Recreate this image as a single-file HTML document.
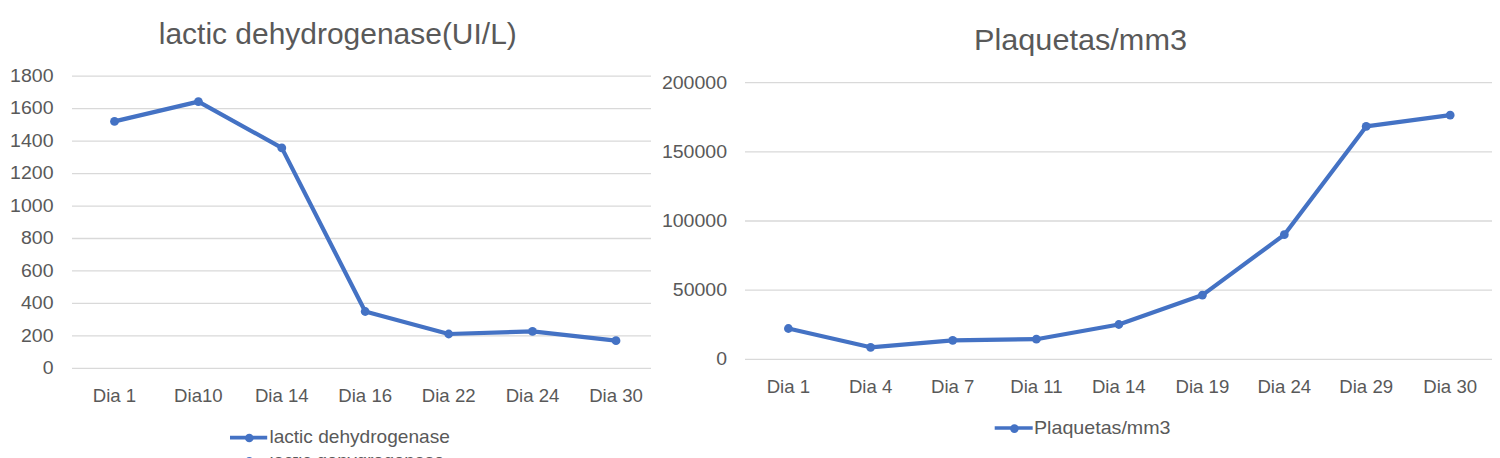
<!DOCTYPE html>
<html><head><meta charset="utf-8"><style>
html,body{margin:0;padding:0;background:#fff;width:1500px;height:458px;overflow:hidden}
svg{display:block;font-family:"Liberation Sans", sans-serif}
</style></head><body>
<svg width="1500" height="458" viewBox="0 0 1500 458">
<rect width="1500" height="458" fill="#fff"/>
<line x1="72" y1="76.2" x2="651" y2="76.2" stroke="#D9D9D9" stroke-width="1.3"/>
<line x1="72" y1="108.66" x2="651" y2="108.66" stroke="#D9D9D9" stroke-width="1.3"/>
<line x1="72" y1="141.12" x2="651" y2="141.12" stroke="#D9D9D9" stroke-width="1.3"/>
<line x1="72" y1="173.58" x2="651" y2="173.58" stroke="#D9D9D9" stroke-width="1.3"/>
<line x1="72" y1="206.04" x2="651" y2="206.04" stroke="#D9D9D9" stroke-width="1.3"/>
<line x1="72" y1="238.5" x2="651" y2="238.5" stroke="#D9D9D9" stroke-width="1.3"/>
<line x1="72" y1="270.96" x2="651" y2="270.96" stroke="#D9D9D9" stroke-width="1.3"/>
<line x1="72" y1="303.42" x2="651" y2="303.42" stroke="#D9D9D9" stroke-width="1.3"/>
<line x1="72" y1="335.88" x2="651" y2="335.88" stroke="#D9D9D9" stroke-width="1.3"/>
<line x1="72" y1="368.34" x2="651" y2="368.34" stroke="#D9D9D9" stroke-width="1.3"/>
<text x="53.5" y="81.9" font-size="18" text-anchor="end" fill="#595959" textLength="43.4" lengthAdjust="spacingAndGlyphs">1800</text>
<text x="53.5" y="114.4" font-size="18" text-anchor="end" fill="#595959" textLength="43.4" lengthAdjust="spacingAndGlyphs">1600</text>
<text x="53.5" y="146.8" font-size="18" text-anchor="end" fill="#595959" textLength="43.4" lengthAdjust="spacingAndGlyphs">1400</text>
<text x="53.5" y="179.3" font-size="18" text-anchor="end" fill="#595959" textLength="43.4" lengthAdjust="spacingAndGlyphs">1200</text>
<text x="53.5" y="211.7" font-size="18" text-anchor="end" fill="#595959" textLength="43.4" lengthAdjust="spacingAndGlyphs">1000</text>
<text x="53.5" y="244.2" font-size="18" text-anchor="end" fill="#595959" textLength="32.5" lengthAdjust="spacingAndGlyphs">800</text>
<text x="53.5" y="276.7" font-size="18" text-anchor="end" fill="#595959" textLength="32.5" lengthAdjust="spacingAndGlyphs">600</text>
<text x="53.5" y="309.1" font-size="18" text-anchor="end" fill="#595959" textLength="32.5" lengthAdjust="spacingAndGlyphs">400</text>
<text x="53.5" y="341.6" font-size="18" text-anchor="end" fill="#595959" textLength="32.5" lengthAdjust="spacingAndGlyphs">200</text>
<text x="53.5" y="374.0" font-size="18" text-anchor="end" fill="#595959" textLength="10.8" lengthAdjust="spacingAndGlyphs">0</text>
<text x="114.5" y="402.4" font-size="18.6" text-anchor="middle" fill="#595959">Dia 1</text>
<text x="198.4" y="402.4" font-size="18.6" text-anchor="middle" fill="#595959">Dia10</text>
<text x="281.8" y="402.4" font-size="18.6" text-anchor="middle" fill="#595959">Dia 14</text>
<text x="365.2" y="402.4" font-size="18.6" text-anchor="middle" fill="#595959">Dia 16</text>
<text x="448.7" y="402.4" font-size="18.6" text-anchor="middle" fill="#595959">Dia 22</text>
<text x="532.5" y="402.4" font-size="18.6" text-anchor="middle" fill="#595959">Dia 24</text>
<text x="616.0" y="402.4" font-size="18.6" text-anchor="middle" fill="#595959">Dia 30</text>
<polyline points="114.5,121.4 198.4,101.6 281.8,147.9 365.2,311.5 448.7,334.0 532.5,331.4 616.0,340.7" fill="none" stroke="#4472C4" stroke-width="4.2" stroke-linejoin="round" stroke-linecap="round"/>
<circle cx="114.5" cy="121.4" r="4.4" fill="#4472C4"/>
<circle cx="198.4" cy="101.6" r="4.4" fill="#4472C4"/>
<circle cx="281.8" cy="147.9" r="4.4" fill="#4472C4"/>
<circle cx="365.2" cy="311.5" r="4.4" fill="#4472C4"/>
<circle cx="448.7" cy="334.0" r="4.4" fill="#4472C4"/>
<circle cx="532.5" cy="331.4" r="4.4" fill="#4472C4"/>
<circle cx="616.0" cy="340.7" r="4.4" fill="#4472C4"/>
<text x="337.8" y="43.9" font-size="30" text-anchor="middle" fill="#595959" textLength="358" lengthAdjust="spacingAndGlyphs">lactic dehydrogenase(UI/L)</text>
<line x1="230" y1="437.6" x2="267.2" y2="437.6" stroke="#4472C4" stroke-width="3.6"/>
<circle cx="249.3" cy="438" r="4.3" fill="#4472C4"/>
<text x="269.4" y="443.2" font-size="19" text-anchor="start" fill="#595959" textLength="180.5" lengthAdjust="spacingAndGlyphs">lactic dehydrogenase</text>
<clipPath id="cb"><rect x="200" y="457" width="300" height="1"/></clipPath>
<g clip-path="url(#cb)"><circle cx="249.3" cy="461.3" r="4.3" fill="#4472C4"/>
<text x="269.4" y="466.6" font-size="19" text-anchor="start" fill="#595959" textLength="175" lengthAdjust="spacingAndGlyphs">lactic dehydrogenase</text>
</g>
<line x1="745" y1="82.7" x2="1492" y2="82.7" stroke="#D9D9D9" stroke-width="1.3"/>
<line x1="745" y1="151.85" x2="1492" y2="151.85" stroke="#D9D9D9" stroke-width="1.3"/>
<line x1="745" y1="221.0" x2="1492" y2="221.0" stroke="#D9D9D9" stroke-width="1.3"/>
<line x1="745" y1="290.15" x2="1492" y2="290.15" stroke="#D9D9D9" stroke-width="1.3"/>
<line x1="745" y1="359.3" x2="1492" y2="359.3" stroke="#D9D9D9" stroke-width="1.3"/>
<text x="727" y="88.7" font-size="18" text-anchor="end" fill="#595959" textLength="65.1" lengthAdjust="spacingAndGlyphs">200000</text>
<text x="727" y="157.9" font-size="18" text-anchor="end" fill="#595959" textLength="65.1" lengthAdjust="spacingAndGlyphs">150000</text>
<text x="727" y="227.0" font-size="18" text-anchor="end" fill="#595959" textLength="65.1" lengthAdjust="spacingAndGlyphs">100000</text>
<text x="727" y="296.2" font-size="18" text-anchor="end" fill="#595959" textLength="54.2" lengthAdjust="spacingAndGlyphs">50000</text>
<text x="727" y="365.3" font-size="18" text-anchor="end" fill="#595959" textLength="10.8" lengthAdjust="spacingAndGlyphs">0</text>
<text x="788.4" y="392.7" font-size="18.6" text-anchor="middle" fill="#595959">Dia 1</text>
<text x="870.6" y="392.7" font-size="18.6" text-anchor="middle" fill="#595959">Dia 4</text>
<text x="952.7" y="392.7" font-size="18.6" text-anchor="middle" fill="#595959">Dia 7</text>
<text x="1036.4" y="392.7" font-size="18.6" text-anchor="middle" fill="#595959">Dia 11</text>
<text x="1118.8" y="392.7" font-size="18.6" text-anchor="middle" fill="#595959">Dia 14</text>
<text x="1202.4" y="392.7" font-size="18.6" text-anchor="middle" fill="#595959">Dia 19</text>
<text x="1284.3" y="392.7" font-size="18.6" text-anchor="middle" fill="#595959">Dia 24</text>
<text x="1366.2" y="392.7" font-size="18.6" text-anchor="middle" fill="#595959">Dia 29</text>
<text x="1450.2" y="392.7" font-size="18.6" text-anchor="middle" fill="#595959">Dia 30</text>
<polyline points="788.4,328.5 870.6,347.3 952.7,340.3 1036.4,339.2 1118.8,324.5 1202.4,295.1 1284.3,234.7 1366.2,126.4 1450.2,115.1" fill="none" stroke="#4472C4" stroke-width="4.2" stroke-linejoin="round" stroke-linecap="round"/>
<circle cx="788.4" cy="328.5" r="4.4" fill="#4472C4"/>
<circle cx="870.6" cy="347.3" r="4.4" fill="#4472C4"/>
<circle cx="952.7" cy="340.3" r="4.4" fill="#4472C4"/>
<circle cx="1036.4" cy="339.2" r="4.4" fill="#4472C4"/>
<circle cx="1118.8" cy="324.5" r="4.4" fill="#4472C4"/>
<circle cx="1202.4" cy="295.1" r="4.4" fill="#4472C4"/>
<circle cx="1284.3" cy="234.7" r="4.4" fill="#4472C4"/>
<circle cx="1366.2" cy="126.4" r="4.4" fill="#4472C4"/>
<circle cx="1450.2" cy="115.1" r="4.4" fill="#4472C4"/>
<text x="1080.5" y="50.2" font-size="30" text-anchor="middle" fill="#595959" textLength="213" lengthAdjust="spacingAndGlyphs">Plaquetas/mm3</text>
<line x1="994.7" y1="428" x2="1032.7" y2="428" stroke="#4472C4" stroke-width="3.6"/>
<circle cx="1014.4" cy="428.6" r="4.3" fill="#4472C4"/>
<text x="1034" y="434" font-size="19" text-anchor="start" fill="#595959" textLength="136.5" lengthAdjust="spacingAndGlyphs">Plaquetas/mm3</text>
</svg>
</body></html>
